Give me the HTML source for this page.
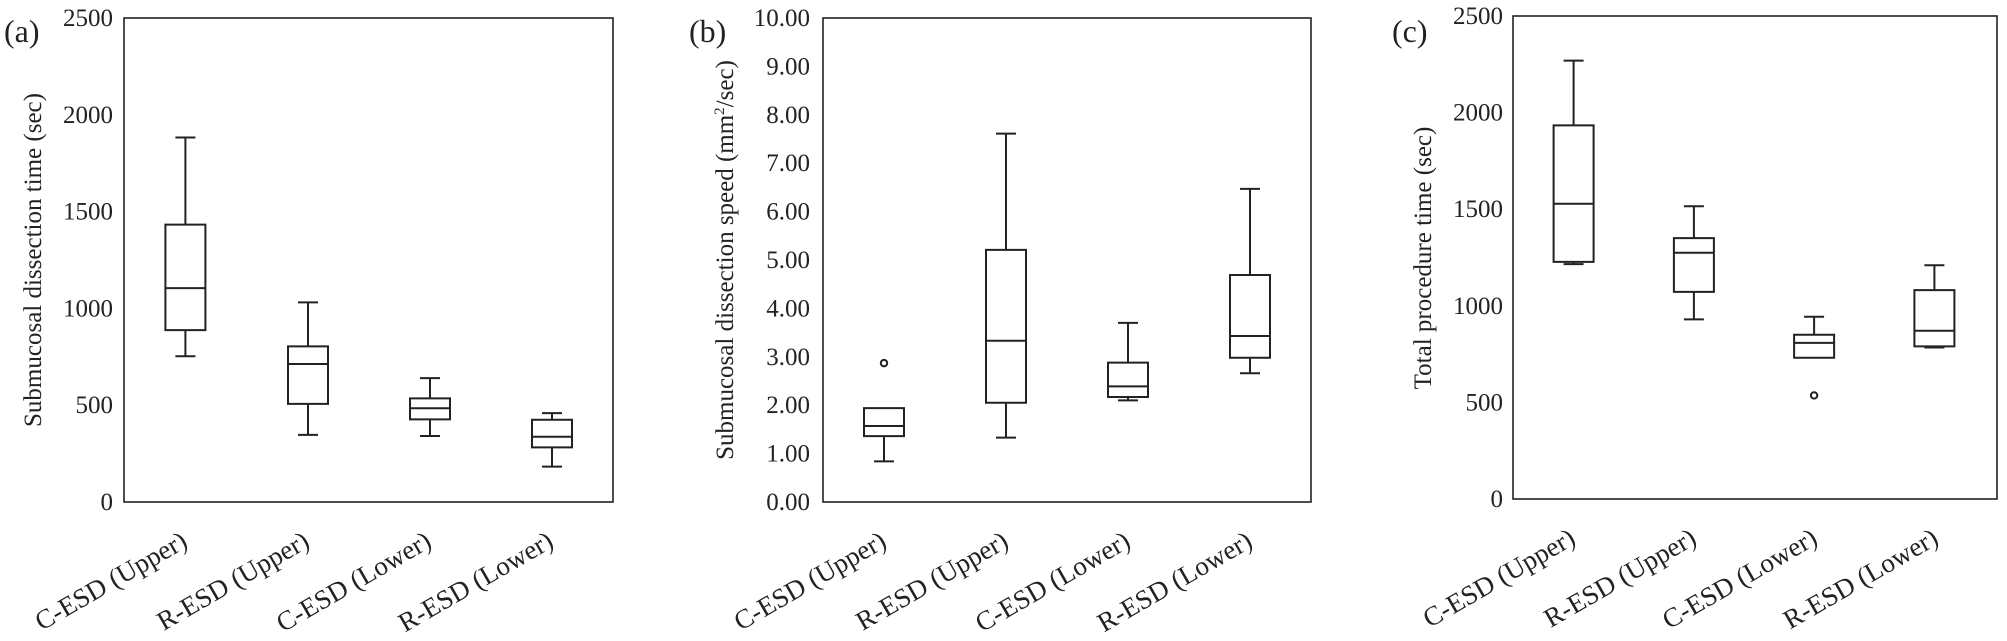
<!DOCTYPE html>
<html><head><meta charset="utf-8"><style>
html,body{margin:0;padding:0;background:#fff;}
svg{display:block;font-family:"Liberation Serif",serif;}
</style></head><body>
<svg width="2007" height="641" viewBox="0 0 2007 641" xmlns="http://www.w3.org/2000/svg">
<g fill="none" stroke="#222" stroke-width="1.6">
<rect x="124" y="18" width="489" height="484"/>
<rect x="823" y="18" width="488" height="484"/>
<rect x="1513" y="16" width="484" height="483"/>
</g>
<g fill="none" stroke="#222" stroke-width="2">
<g transform="matrix(1,0,0,0.9416,0,1.07)">
<rect vector-effect="non-scaling-stroke" x="165.4" y="237.4" width="40" height="112"/><line vector-effect="non-scaling-stroke" x1="165.4" y1="304.8" x2="205.4" y2="304.8"/>
<path vector-effect="non-scaling-stroke" d="M185.4 237.4V144.9M175.4 144.9H195.4M185.4 349.4V377.2M175.4 377.2H195.4"/>
<rect vector-effect="non-scaling-stroke" x="288" y="366.7" width="40" height="61.1"/><line vector-effect="non-scaling-stroke" x1="288" y1="385.4" x2="328" y2="385.4"/>
<path vector-effect="non-scaling-stroke" d="M308 366.7V320M298 320H318M308 427.8V460.7M298 460.7H318"/>
<rect vector-effect="non-scaling-stroke" x="410" y="422" width="40" height="22.2"/><line vector-effect="non-scaling-stroke" x1="410" y1="432.5" x2="450" y2="432.5"/>
<path vector-effect="non-scaling-stroke" d="M430 422V400.4M420 400.4H440M430 444.2V461.9M420 461.9H440"/>
<rect vector-effect="non-scaling-stroke" x="532" y="444.6" width="40" height="29.4"/><line vector-effect="non-scaling-stroke" x1="532" y1="462.7" x2="572" y2="462.7"/>
<path vector-effect="non-scaling-stroke" d="M552 444.6V437.6M542 437.6H562M552 474V494.4M542 494.4H562"/>

<rect vector-effect="non-scaling-stroke" x="864" y="432.3" width="40" height="29.8"/><line vector-effect="non-scaling-stroke" x1="864" y1="451.3" x2="904" y2="451.3"/>
<path vector-effect="non-scaling-stroke" d="M884 462.1V488.8M874 488.8H894"/>
<ellipse vector-effect="non-scaling-stroke" cx="884" cy="384.5" rx="3.2" ry="3.4"/>
<rect vector-effect="non-scaling-stroke" x="986" y="264.2" width="40" height="162.4"/><line vector-effect="non-scaling-stroke" x1="986" y1="360.8" x2="1026" y2="360.8"/>
<path vector-effect="non-scaling-stroke" d="M1006 264.2V140.8M996 140.8H1016M1006 426.6V463.6M996 463.6H1016"/>
<rect vector-effect="non-scaling-stroke" x="1108" y="384" width="40" height="36.5"/><line vector-effect="non-scaling-stroke" x1="1108" y1="409.2" x2="1148" y2="409.2"/>
<path vector-effect="non-scaling-stroke" d="M1128 384V341.8M1118 341.8H1138M1128 420.5V424.1M1118 424.1H1138"/>
<rect vector-effect="non-scaling-stroke" x="1230" y="290.9" width="40" height="87.9"/><line vector-effect="non-scaling-stroke" x1="1230" y1="355.7" x2="1270" y2="355.7"/>
<path vector-effect="non-scaling-stroke" d="M1250 290.9V199.4M1240 199.4H1260M1250 378.8V395.3M1240 395.3H1260"/>
</g>

<g transform="matrix(1,0,0,0.9397,-2.5,-0.92)">
<rect vector-effect="non-scaling-stroke" x="1556.1" y="134.4" width="40" height="145.3"/><line vector-effect="non-scaling-stroke" x1="1556.1" y1="217.8" x2="1596.1" y2="217.8"/>
<path vector-effect="non-scaling-stroke" d="M1576.1 134.4V65.5M1566.1 65.5H1586.1M1576.1 279.7V282M1566.1 282H1586.1"/>
<rect vector-effect="non-scaling-stroke" x="1676.4" y="254.4" width="40" height="57.2"/><line vector-effect="non-scaling-stroke" x1="1676.4" y1="269.9" x2="1716.4" y2="269.9"/>
<path vector-effect="non-scaling-stroke" d="M1696.4 254.4V220.5M1686.4 220.5H1706.4M1696.4 311.6V340.8M1686.4 340.8H1706.4"/>
<rect vector-effect="non-scaling-stroke" x="1796.6" y="357.2" width="40" height="24.5"/><line vector-effect="non-scaling-stroke" x1="1796.6" y1="365.9" x2="1836.6" y2="365.9"/>
<path vector-effect="non-scaling-stroke" d="M1816.6 357.2V338.1M1806.6 338.1H1826.6"/>
<ellipse vector-effect="non-scaling-stroke" cx="1816.6" cy="421.8" rx="3.2" ry="3.4"/>
<rect vector-effect="non-scaling-stroke" x="1916.9" y="309.7" width="40" height="59.9"/><line vector-effect="non-scaling-stroke" x1="1916.9" y1="352.9" x2="1956.9" y2="352.9"/>
<path vector-effect="non-scaling-stroke" d="M1936.9 309.7V283.2M1926.9 283.2H1946.9M1936.9 369.6V370.8M1926.9 370.8H1946.9"/>
</g>
</g>

<g fill="#222" font-size="25">
<text x="4" y="42" font-size="32">(a)</text>
<text x="689" y="42" font-size="32">(b)</text>
<text x="1392" y="42" font-size="32">(c)</text>

<g text-anchor="end">
<text x="113" y="510">0</text>
<text x="113" y="413.2">500</text>
<text x="113" y="316.4">1000</text>
<text x="113" y="219.6">1500</text>
<text x="113" y="122.8">2000</text>
<text x="113" y="26">2500</text>
</g>
<g text-anchor="end">
<text x="810" y="510">0.00</text>
<text x="810" y="461.6">1.00</text>
<text x="810" y="413.2">2.00</text>
<text x="810" y="364.8">3.00</text>
<text x="810" y="316.4">4.00</text>
<text x="810" y="268">5.00</text>
<text x="810" y="219.6">6.00</text>
<text x="810" y="171.2">7.00</text>
<text x="810" y="122.8">8.00</text>
<text x="810" y="74.4">9.00</text>
<text x="810" y="26">10.00</text>
</g>
<g text-anchor="end">
<text x="1503" y="507">0</text>
<text x="1503" y="410.4">500</text>
<text x="1503" y="313.8">1000</text>
<text x="1503" y="217.2">1500</text>
<text x="1503" y="120.6">2000</text>
<text x="1503" y="24">2500</text>
</g>

<text transform="translate(41,260) rotate(-90)" text-anchor="middle">Submucosal dissection time (sec)</text>
<text transform="translate(733,260) rotate(-90)" text-anchor="middle">Submucosal dissection speed (mm<tspan font-size="15" dy="-9">2</tspan><tspan dy="9">/sec)</tspan></text>
<text transform="translate(1431,258) rotate(-90)" text-anchor="middle">Total procedure time (sec)</text>

<g text-anchor="end" font-size="27">
<text transform="translate(189,546) rotate(-30)">C-ESD (Upper)</text>
<text transform="translate(311,546) rotate(-30)">R-ESD (Upper)</text>
<text transform="translate(433,546) rotate(-30)">C-ESD (Lower)</text>
<text transform="translate(555,546) rotate(-30)">R-ESD (Lower)</text>

<text transform="translate(888,546) rotate(-30)">C-ESD (Upper)</text>
<text transform="translate(1010,546) rotate(-30)">R-ESD (Upper)</text>
<text transform="translate(1132,546) rotate(-30)">C-ESD (Lower)</text>
<text transform="translate(1254,546) rotate(-30)">R-ESD (Lower)</text>

<text transform="translate(1577,543) rotate(-30)">C-ESD (Upper)</text>
<text transform="translate(1698,543) rotate(-30)">R-ESD (Upper)</text>
<text transform="translate(1819,543) rotate(-30)">C-ESD (Lower)</text>
<text transform="translate(1940,543) rotate(-30)">R-ESD (Lower)</text>
</g>
</g>
</svg>
</body></html>
